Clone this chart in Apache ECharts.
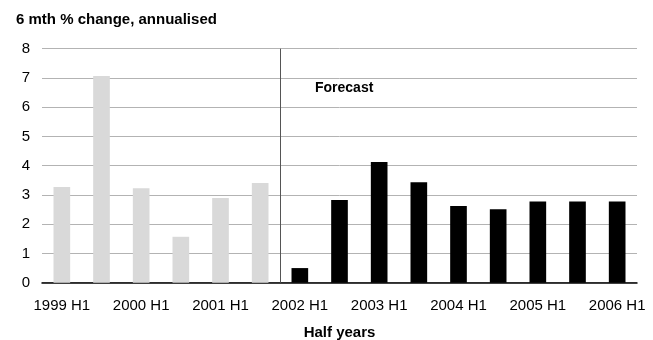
<!DOCTYPE html>
<html>
<head>
<meta charset="utf-8">
<script src="https://cdn.jsdelivr.net/npm/echarts@6/dist/echarts.min.js"></script>
<style>
  html, body { margin: 0; padding: 0; background: #fff; }
  #chart { width: 653px; height: 340px; }
</style>
</head>
<body>
<div id="chart"></div>
<script>
// Half-year periods
const categories = [
  '1999 H1', '1999 H2', '2000 H1', '2000 H2', '2001 H1', '2001 H2',
  '2002 H1', '2002 H2', '2003 H1', '2003 H2', '2004 H1', '2004 H2',
  '2005 H1', '2005 H2', '2006 H1'
];
// Actual outcomes (6 mth % change, annualised)
const actual = [3.27, 7.07, 3.23, 1.57, 2.9, 3.41, null, null, null, null, null, null, null, null, null];
// Forecast values
const forecast = [null, null, null, null, null, null, 0.5, 2.83, 4.13, 3.43, 2.62, 2.51, 2.78, 2.78, 2.78];
// Forecast period starts after this many half years
const forecastStart = 6;
const yTicks = [0, 1, 2, 3, 4, 5, 6, 7, 8];

const chart = echarts.init(document.getElementById('chart'));
const font = 'Liberation Sans, Arial, sans-serif';

chart.setOption({
  animation: false,
  title: [
    { text: '6 mth % change, annualised', left: 16, top: 12, padding: 0,
      textStyle: { fontFamily: font, fontSize: 15, fontWeight: 'bold', color: '#000' } },
    { text: 'Forecast', left: 315, top: 81, padding: 0,
      textStyle: { fontFamily: font, fontSize: 14, fontWeight: 'bold', color: '#000' } }
  ],
  grid: { left: 42, right: 16, top: 48.7, bottom: 57.3, outerBoundsMode: 'none' },
  xAxis: [
    {
      type: 'category',
      data: categories,
      name: 'Half years',
      nameLocation: 'middle',
      nameGap: 43,
      nameTextStyle: { fontFamily: font, fontSize: 15, fontWeight: 'bold', color: '#000' },
      axisLine: { lineStyle: { color: '#000', width: 1.5 } },
      axisTick: { show: false },
      axisLabel: { interval: 1, fontFamily: font, fontSize: 15, color: '#000', margin: 16 }
    },
    { type: 'value', min: 0, max: categories.length, show: false }
  ],
  yAxis: {
    type: 'value',
    min: yTicks[0],
    max: yTicks[yTicks.length - 1],
    interval: 1,
    axisLine: { show: false },
    axisTick: { show: false },
    splitLine: { lineStyle: { color: '#b3b3b3', width: 1 } },
    axisLabel: { fontFamily: font, fontSize: 15, color: '#000', margin: 12 }
  },
  series: [
    {
      name: 'Actual', type: 'bar', stack: 'v', data: actual, barWidth: '42%',
      itemStyle: { color: '#d9d9d9' }
    },
    {
      name: 'Forecast', type: 'bar', stack: 'v', data: forecast, barWidth: '42%',
      itemStyle: { color: '#000' }
    },
    {
      name: 'Divider', type: 'line', xAxisIndex: 1, data: [],
      markLine: {
        symbol: 'none',
        silent: true,
        label: { show: false },
        lineStyle: { color: '#555', width: 1, type: 'solid' },
        data: [{ xAxis: forecastStart }]
      }
    }
  ]
});
</script>
</body>
</html>
